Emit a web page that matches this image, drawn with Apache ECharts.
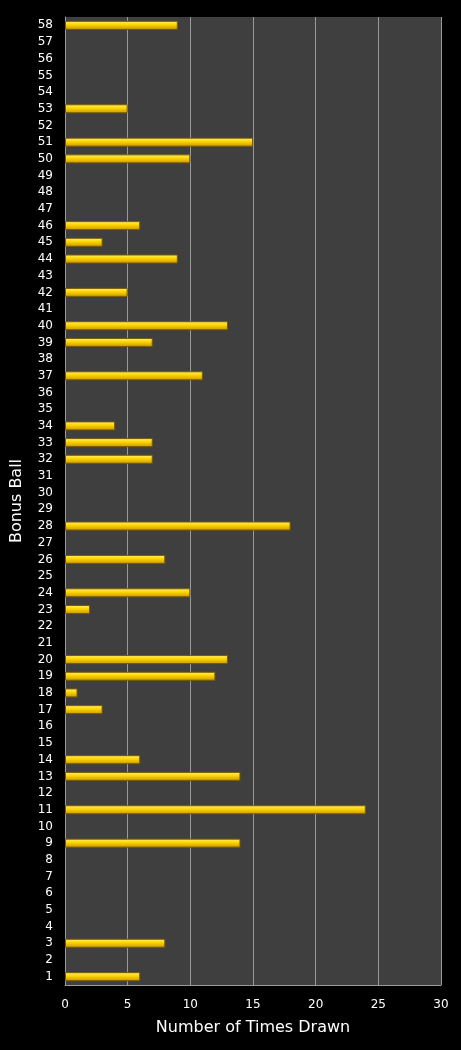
<!DOCTYPE html><html><head><meta charset="utf-8">
<script src="https://cdn.jsdelivr.net/npm/echarts@6/dist/echarts.min.js"></script>
<style>html,body{margin:0;background:#000}#c{width:461px;height:1050px}</style></head><body><div id="c"></div>
<script>
const balls=[];for(let i=1;i<=58;i++)balls.push(String(i));
const drawnBalls=[58,53,51,50,46,45,44,42,40,39,37,34,33,32,28,26,24,23,20,19,18,17,14,13,11,9,3,1];
const drawnCounts=[9,5,15,10,6,3,9,5,13,7,11,4,7,7,18,8,10,2,13,12,1,3,6,14,24,14,8,6];
const values=balls.map(b=>{const k=drawnBalls.indexOf(+b);return k<0?null:drawnCounts[k];});
const xTicks={min:0,max:30,interval:5};
const ch=echarts.init(document.getElementById('c'));
ch.setOption({backgroundColor:'#000',animation:false,
grid:{left:65,right:20,top:17,bottom:65,backgroundColor:'#3f3f3f',show:true,borderWidth:0},
xAxis:{type:'value',min:xTicks.min,max:xTicks.max,interval:xTicks.interval,
 name:'Number of Times Drawn',nameLocation:'middle',nameGap:35,nameTextStyle:{color:'#fff',fontSize:16,fontFamily:'DejaVu Sans'},
 axisLabel:{color:'#fff',fontSize:12,fontFamily:'DejaVu Sans',margin:14},
 splitLine:{lineStyle:{color:'#9a9a9a'}},axisLine:{show:true,lineStyle:{color:'#9a9a9a'}}},
yAxis:{type:'category',data:balls,
 name:'Bonus Ball',nameLocation:'middle',nameGap:40,nameTextStyle:{color:'#fff',fontSize:16,fontFamily:'DejaVu Sans'},
 axisLabel:{color:'#fff',fontSize:12,fontFamily:'DejaVu Sans',interval:0,margin:12},
 axisTick:{show:false},axisLine:{show:true,lineStyle:{color:'#9a9a9a'}}},
series:[{type:'bar',data:values,barWidth:9,
 itemStyle:{borderColor:'#7a5a00',borderWidth:1,color:new echarts.graphic.LinearGradient(0,0,0,1,[{offset:0,color:'#fff27a'},{offset:0.4,color:'#ffd800'},{offset:1,color:'#c89400'}])}}]});
</script></body></html>
